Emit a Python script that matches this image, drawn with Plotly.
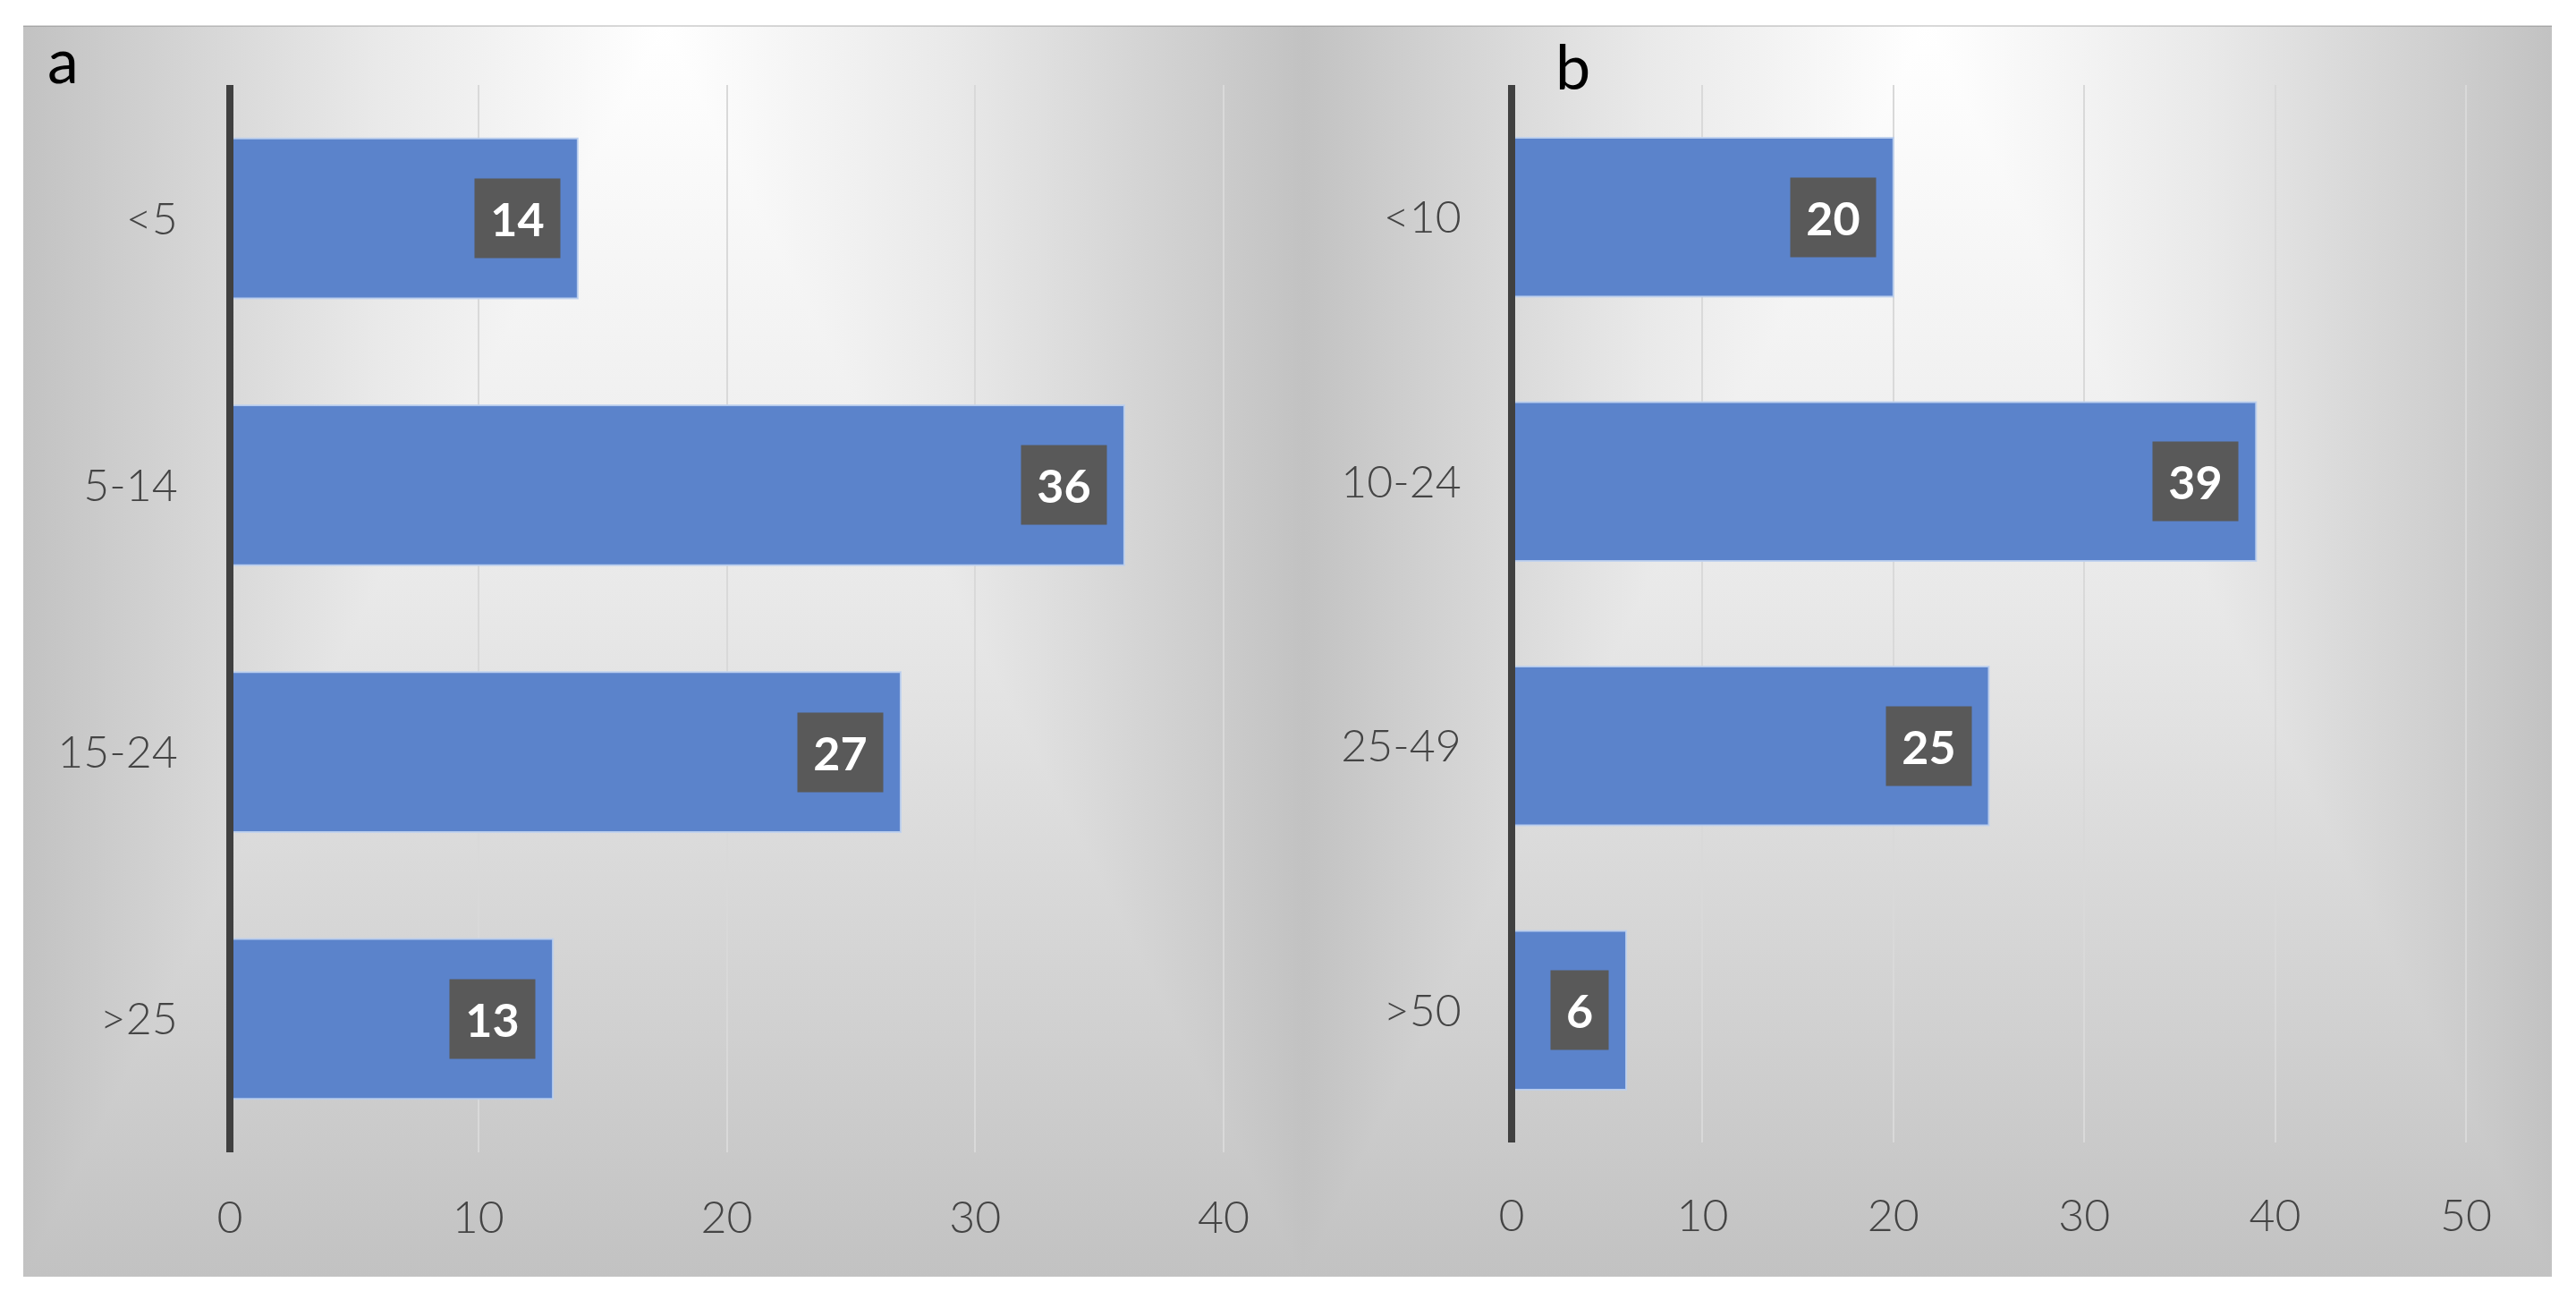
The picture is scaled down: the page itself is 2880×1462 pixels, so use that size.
import base64
import plotly.graph_objects as go

# ---------------- data ----------------
cats_a = ["<5", "5-14", "15-24", ">25"]
vals_a = [14, 36, 27, 13]
cats_b = ["<10", "10-24", "25-49", ">50"]
vals_b = [20, 39, 25, 6]
ticks_a = [0, 10, 20, 30, 40]
ticks_b = [0, 10, 20, 30, 40, 50]
panel_labels = ["a", "b"]

# ---------------- style ----------------
W, H = 2880, 1462
BAR = "#5b83cb"
BAR_EDGE = "rgba(190,208,238,0.9)"
LABEL_BG = "#595959"
TXT = "#444444"
FONT = "Lato, 'Open Sans', sans-serif"


def rect_gradient(w, h):
    cx = w / 2
    stops = ('<stop offset="0" stop-color="#ffffff"/>'
             '<stop offset="0.45" stop-color="#e9e9e9"/>'
             '<stop offset="0.85" stop-color="#cdcdcd"/>'
             '<stop offset="1" stop-color="#c2c2c2"/>')
    svg = (f'<svg xmlns="http://www.w3.org/2000/svg" width="{w}" height="{h}" '
           f'viewBox="0 0 {w} {h}" preserveAspectRatio="none"><defs>'
           f'<linearGradient id="l" gradientUnits="userSpaceOnUse" x1="{cx}" y1="0" x2="0" y2="0">{stops}</linearGradient>'
           f'<linearGradient id="r" gradientUnits="userSpaceOnUse" x1="{cx}" y1="0" x2="{w}" y2="0">{stops}</linearGradient>'
           f'<linearGradient id="b" gradientUnits="userSpaceOnUse" x1="0" y1="0" x2="0" y2="{h}">{stops}</linearGradient>'
           '</defs>'
           f'<rect width="{w}" height="{h}" fill="#d4d4d4"/>'
           f'<polygon points="{cx},0 0,0 0,{h}" fill="url(#l)" stroke="url(#l)" stroke-width="2"/>'
           f'<polygon points="{cx},0 {w},0 {w},{h}" fill="url(#r)" stroke="url(#r)" stroke-width="2"/>'
           f'<polygon points="{cx},0 0,{h} {w},{h}" fill="url(#b)" stroke="url(#b)" stroke-width="2"/>'
           '</svg>')
    return "data:image/svg+xml;base64," + base64.b64encode(svg.encode()).decode()


fig = go.Figure()
fig.add_trace(go.Bar(x=vals_a, y=cats_a, orientation="h", xaxis="x", yaxis="y",
                     marker=dict(color=BAR, line=dict(color=BAR_EDGE, width=2)),
                     hoverinfo="skip"))
fig.add_trace(go.Bar(x=vals_b, y=cats_b, orientation="h", xaxis="x2", yaxis="y2",
                     marker=dict(color=BAR, line=dict(color=BAR_EDGE, width=2)),
                     hoverinfo="skip"))

# pixel geometry of the two plot areas
ua = (1368 - 257) / 40
ub = (2757 - 1690) / 50
xa_dom = [(257 - 0.15 * ua) / W, (1368 + 0.05 * ua) / W]
xb_dom = [(1690 - 0.2 * ub) / W, (2757 + 0.05 * ub) / W]

tfont = dict(family=FONT, size=50, color=TXT, weight=300)
xcommon = dict(showgrid=True, gridcolor="#d9d9d9", gridwidth=2, zeroline=False,
               showline=False, ticks="outside", tickcolor="rgba(0,0,0,0)",
               tickfont=tfont, automargin=False, fixedrange=True)
ycommon = dict(showgrid=False, zeroline=False, showline=False, ticks="outside",
               tickcolor="rgba(0,0,0,0)", type="category",
               tickfont=tfont, automargin=False,
               range=[3.5, -0.5], fixedrange=True)

fig.update_layout(
    width=W, height=H,
    margin=dict(l=0, r=0, t=0, b=0),
    paper_bgcolor="white", plot_bgcolor="rgba(0,0,0,0)",
    showlegend=False, bargap=0.4,
    xaxis=dict(xcommon, domain=xa_dom, range=[-0.15, 40.05], tickvals=ticks_a,
               anchor="y", ticklen=29),
    yaxis=dict(ycommon, domain=[1 - 1288 / H, 1 - 95 / H], anchor="x",
               categoryorder="array", categoryarray=cats_a, ticklen=43),
    xaxis2=dict(xcommon, domain=xb_dom, range=[-0.2, 50.05], tickvals=ticks_b,
                anchor="y2", ticklen=38),
    yaxis2=dict(ycommon, domain=[1 - 1277 / H, 1 - 95 / H], anchor="x2",
                categoryorder="array", categoryarray=cats_b, ticklen=41),
)

# gradient panels
fig.add_layout_image(dict(source=rect_gradient(1431, 1398), xref="paper", yref="paper",
                          x=26 / W, y=1 - 29 / H, sizex=1431 / W, sizey=1398 / H,
                          xanchor="left", yanchor="top", sizing="stretch", layer="below"))
fig.add_layout_image(dict(source=rect_gradient(1396, 1398), xref="paper", yref="paper",
                          x=1457 / W, y=1 - 29 / H, sizex=1396 / W, sizey=1398 / H,
                          xanchor="left", yanchor="top", sizing="stretch", layer="below"))

# top edge line of the panel
fig.add_shape(type="line", xref="paper", yref="paper", x0=26 / W, x1=2853 / W,
              y0=1 - 29 / H, y1=1 - 29 / H, line=dict(color="rgba(0,0,0,0.15)", width=2),
              layer="above")

# vertical category axis lines at x = 0
for xr, yr in (("x", "y domain"), ("x2", "y2 domain")):
    fig.add_shape(type="line", xref=xr, yref=yr, x0=0, x1=0, y0=0, y1=1,
                  line=dict(color="#404040", width=8), layer="above")

# data label boxes
for vals, cats, xr, yr in ((vals_a, cats_a, "x", "y"), (vals_b, cats_b, "x2", "y2")):
    for v, c in zip(vals, cats):
        n = len(str(v))
        fig.add_annotation(x=v, y=c, xref=xr, yref=yr, text=f"<b>{v}</b>",
                           showarrow=False, xanchor="right", yanchor="middle",
                           xshift=-19, bgcolor=LABEL_BG, borderpad=0,
                           width=33 + 31 * n, height=88, align="center",
                           font=dict(family=FONT, size=52, color="white"))

# panel letters
fig.add_annotation(x=51 / W, y=1 - 66 / H, xref="paper", yref="paper",
                   text=panel_labels[0], showarrow=False, xanchor="left",
                   yanchor="middle", font=dict(family=FONT, size=70, color="black"))
fig.add_annotation(x=1737 / W, y=1 - 73 / H, xref="paper", yref="paper",
                   text=panel_labels[1], showarrow=False, xanchor="left",
                   yanchor="middle", font=dict(family=FONT, size=70, color="black"))

fig.write_html("out.html", config={"displayModeBar": False},
               post_script="document.body.style.margin='0px';")
